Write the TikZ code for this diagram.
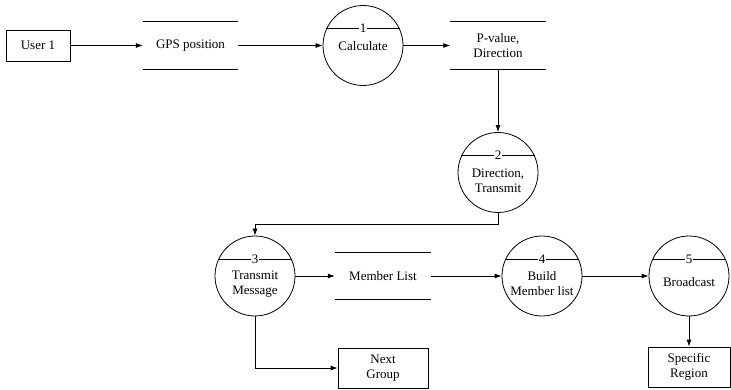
\documentclass[tikz,border=0pt]{standalone}
\usepackage{fontspec}
\setmainfont{Liberation Serif}
\usetikzlibrary{arrows.meta,calc}
\begin{document}
\begin{tikzpicture}[x=1pt,y=-1pt,
  every node/.style={font=\fontsize{13}{15}\selectfont},
  ln/.style={line width=0.8pt},
  arr/.style={ln,-{Latex[length=7pt,width=5pt]}},
  ent/.style={draw,ln,inner sep=0pt,align=center},
  store/.style={inner sep=0pt,minimum height=47pt,align=center},
  proc/.style={circle,draw,ln,minimum size=80pt,inner sep=0pt},
  ptext/.style={align=center,inner sep=0pt},
  pnum/.style={fill=white,inner sep=1pt}
]
\useasboundingbox (0,0) rectangle (731,390);
% externals
\node[ent,minimum width=64pt,minimum height=31pt] (user) at (38,45.5) {User 1};
\node[ent,minimum width=90pt,minimum height=40pt] (ng) at (383,368) {Next\\Group};
\node[ent,minimum width=82pt,minimum height=40pt] (sr) at (689,367) {Specific\\Region};
% stores
\node[store,minimum width=95pt] (gps) at (190.5,45.5) {GPS position};
\node[store,minimum width=95pt] (pval) at (498,45.5) {P-value,\\Direction};
\node[store,minimum width=96pt] (ml) at (383,276) {Member List};
\foreach \s in {gps,pval,ml}{
  \draw[ln] (\s.north west) -- (\s.north east);
  \draw[ln] (\s.south west) -- (\s.south east);
}
% processes
\node[proc] (c1) at (363,45.5) {};
\node[proc] (c2) at (498,172.5) {};
\node[proc] (c3) at (255,276) {};
\node[proc] (c4) at (542,276) {};
\node[proc] (c5) at (689,276) {};
\foreach \c/\n in {c1/1,c2/2,c3/3,c4/4,c5/5}{
  \draw[ln] (\c.155) -- (\c.25);
  \node[pnum] (\c n) at ($(\c.155)!0.5!(\c.25)$) {\n};
}
\node[ptext] (c1t) at ([yshift=-1pt]c1.center) {Calculate};
\node[ptext] (c2t) at ([yshift=-8pt]c2.center) {Direction,\\Transmit};
\node[ptext] (c3t) at ([yshift=-8pt]c3.center) {Transmit\\Message};
\node[ptext] (c4t) at ([yshift=-8pt]c4.center) {Build\\Member list};
\node[ptext] (c5t) at ([yshift=-6pt]c5.center) {Broadcast};
% flows
\draw[arr] (user.east) -- (gps.west);
\draw[arr] (gps.east) -- (c1.west);
\draw[arr] (c1.east) -- (pval.west);
\draw[arr] (pval.south) -- (c2.north);
\draw[arr] (c2.south) -- ++(0,12) -| (c3.north);
\draw[arr] (c3.east) -- (ml.west);
\draw[arr] (ml.east) -- (c4.west);
\draw[arr] (c4.east) -- (c5.west);
\draw[arr] (c5.south) -- (sr.north);
\draw[arr] (c3.south) |- (ng.west);
\end{tikzpicture}
\end{document}
